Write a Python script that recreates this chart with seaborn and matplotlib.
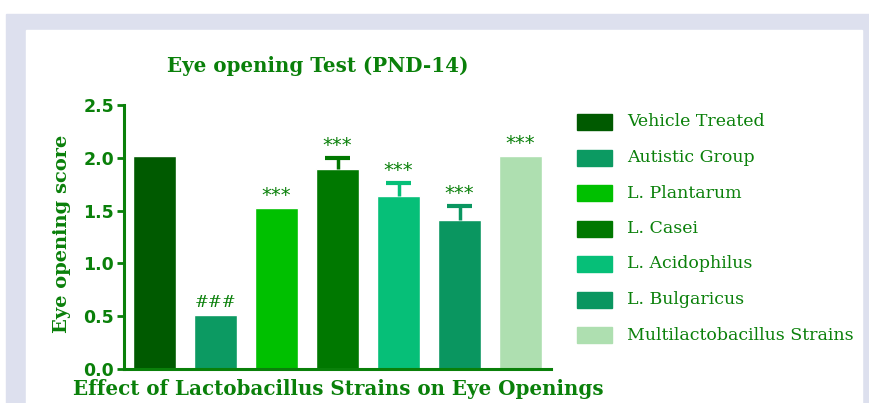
import matplotlib
matplotlib.use("Agg")
import matplotlib.pyplot as plt
import matplotlib.patches as mpatches
import seaborn as sns
import pandas as pd

groups = ["Vehicle Treated", "Autistic Group", "L. Plantarum", "L. Casei",
          "L. Acidophilus", "L. Bulgaricus", "Multilactobacillus Strains"]
scores = [2.02, 0.51, 1.52, 1.89, 1.64, 1.41, 2.02]
errors = [0.0, 0.0, 0.0, 0.11, 0.12, 0.13, 0.0]
marks = ["", "###", "***", "***", "***", "***", "***"]
colors = ["#005a00", "#0c9a62", "#00c000", "#007800", "#06bf78", "#0a9660", "#aedfb0"]

green = "#0a800a"
serif = ["DejaVu Serif"]
sans = ["DejaVu Sans"]

df = pd.DataFrame({"group": groups, "score": scores})

sns.set_style("white")
fig = plt.figure(figsize=(8.69, 4.03), dpi=100)
W, H = 869, 403

# page frame behind the chart
fig.patches.append(mpatches.Rectangle((6 / W, 0), 1, 1 - 14 / H, transform=fig.transFigure,
                                      color="#dde0ee", zorder=-2))
fig.patches.append(mpatches.Rectangle((26 / W, 0), (862 - 26) / W, 1 - 30 / H,
                                      transform=fig.transFigure, color="white", zorder=-1))

ax = fig.add_axes([124 / W, 1 - 369 / H, (551 - 124) / W, (369 - 105) / H])
ax.patch.set_alpha(0)
sns.barplot(data=df, x="group", y="score", hue="group", palette=colors,
            width=0.72, legend=False, ax=ax, saturation=1)

# upper-only error bars (SEM), same colour as the bar
cap = 0.2
for i, (v, e, c) in enumerate(zip(scores, errors, colors)):
    if e > 0:
        ax.vlines(i, v, v + e, color=c, lw=2.5, zorder=3)
        ax.hlines(v + e, i - cap, i + cap, color=c, lw=3, zorder=3)

for i, (v, e, m) in enumerate(zip(scores, errors, marks)):
    if not m:
        continue
    if m == "###":
        ax.text(i, v + 0.04, m, ha="center", va="bottom", color=green,
                fontsize=12, family=serif)
    else:
        ax.text(i, v + e + 0.03, m, ha="center", va="bottom", color=green,
                fontsize=14, family=sans)

ax.set_xlim(-0.5, 6.5)
ax.set_ylim(0, 2.5)
ax.set_yticks([0, 0.5, 1.0, 1.5, 2.0, 2.5])
ax.set_yticklabels(["0.0", "0.5", "1.0", "1.5", "2.0", "2.5"])
ax.set_xticks([])
ax.set_xlabel("")
ax.set_ylabel("")
for s in ["top", "right"]:
    ax.spines[s].set_visible(False)
for s in ["left", "bottom"]:
    ax.spines[s].set_color(green)
    ax.spines[s].set_linewidth(2.2)
ax.tick_params(axis="y", direction="out", length=5, width=2, color=green, pad=2,
               left=True)
for lbl in ax.get_yticklabels():
    lbl.set_family(sans)
    lbl.set_fontweight("bold")
    lbl.set_fontsize(12.5)
    lbl.set_color(green)

fig.text(318 / W, 1 - 66 / H, "Eye opening Test (PND-14)", ha="center", va="center",
         color=green, fontsize=14.3, fontweight="bold", family=serif)
fig.text(62 / W, 1 - 234 / H, "Eye opening score", ha="center", va="center",
         rotation=90, color=green, fontsize=14, fontweight="bold", family=serif)
fig.text(338 / W, 1 - 389 / H, "Effect of Lactobacillus Strains on Eye Openings",
         ha="center", va="center", color=green, fontsize=14.3, fontweight="bold", family=serif)

# legend
for k, (g, c) in enumerate(zip(groups, colors)):
    yc = 122 + k * 35.5
    fig.patches.append(mpatches.Rectangle((577 / W, 1 - (yc + 8) / H), 35 / W, 16 / H,
                                          transform=fig.transFigure, color=c))
    fig.text(627 / W, 1 - yc / H, g, ha="left", va="center", color=green,
             fontsize=12.5, family=serif)

fig.savefig("out.png", dpi=100)
